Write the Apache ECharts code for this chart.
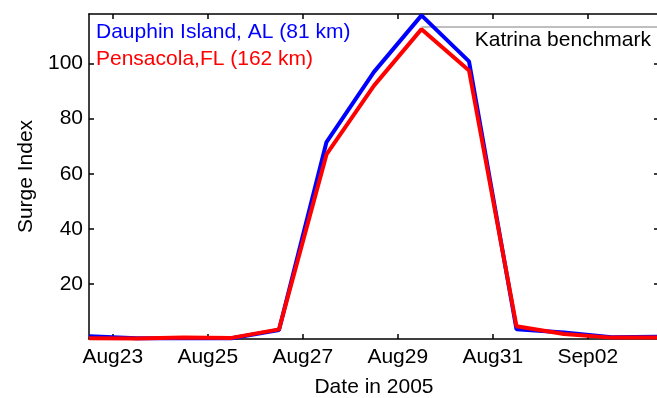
<!DOCTYPE html>
<html>
<head>
<meta charset="utf-8">
<script src="https://cdn.jsdelivr.net/npm/echarts@6/dist/echarts.min.js"></script>
<style>html,body{margin:0;padding:0;background:#fff}#c{width:657px;height:398px}</style>
</head>
<body>
<div id="c"></div>
<script>
const dates = ['2005-08-22T12:00:00Z','2005-08-23T12:00:00Z','2005-08-24T12:00:00Z','2005-08-25T12:00:00Z','2005-08-26T12:00:00Z','2005-08-27T12:00:00Z','2005-08-28T12:00:00Z','2005-08-29T12:00:00Z','2005-08-30T12:00:00Z','2005-08-31T12:00:00Z','2005-09-01T12:00:00Z','2005-09-02T12:00:00Z','2005-09-03T12:00:00Z'];
const dauphin = [1.0, 0.3, 0.3, 0.3, 3.3, 71.5, 97, 117.5, 100.8, 3.5, 2.4, 0.6, 0.8];
const pensacola = [0.3, 0.2, 0.5, 0.4, 3.5, 67, 92, 112.5, 97.5, 4.6, 1.8, 0.5, 0.5];
const seriesNames = ['Dauphin Island, AL (81 km)', 'Pensacola,FL (162 km)'];
const xTickDates = ['2005-08-23T00:00:00Z','2005-08-25T00:00:00Z','2005-08-27T00:00:00Z','2005-08-29T00:00:00Z','2005-08-31T00:00:00Z','2005-09-02T00:00:00Z'];
const xTickLabels = ['Aug23','Aug25','Aug27','Aug29','Aug31','Sep02'];
const yTicks = [20, 40, 60, 80, 100];
const benchmarkValue = 113.5;
const benchmarkStart = '2005-08-29T12:00:00Z';
const benchmarkEnd = '2005-09-03T12:00:00Z';
const benchmarkLabel = 'Katrina benchmark';
const xMin = '2005-08-22T12:00:00Z', xMax = '2005-09-03T12:00:00Z';

const FONT = 'Liberation Sans';
const t = s => new Date(s).getTime();
const xTickVals = xTickDates.map(t);
const labelMap = {};
xTickVals.forEach((v, i) => labelMap[v] = xTickLabels[i]);

const chart = echarts.init(document.getElementById('c'), null, {renderer: 'canvas'});
const axisLine = {show: true, onZero: false, lineStyle: {color: '#000', width: 1.5}};
chart.setOption({
  animation: false,
  textStyle: {fontFamily: FONT},
  grid: {left: 89, top: 14, right: -2, bottom: 59, containLabel: false, outerBoundsMode: 'none'},
  legend: {
    orient: 'vertical', left: 91, top: 17, itemGap: 6,
    itemWidth: 0, itemHeight: 0, icon: 'rect',
    selectedMode: false,
    textStyle: {fontFamily: FONT, fontSize: 21, padding: [0, 0, 0, -5]},
    data: [
      {name: seriesNames[0], textStyle: {color: '#0000ff'}},
      {name: seriesNames[1], textStyle: {color: '#ff0000'}}
    ]
  },
  xAxis: [{
    type: 'value', min: t(xMin), max: t(xMax), scale: true,
    axisLine: axisLine,
    axisTick: {show: true, inside: true, length: 5, customValues: xTickVals, lineStyle: {color: '#000', width: 1.5}},
    axisLabel: {customValues: xTickVals, formatter: v => labelMap[v] || '', color: '#000', fontSize: 21, fontFamily: FONT, margin: 8},
    splitLine: {show: false},
    name: 'Date in 2005', nameLocation: 'middle', nameGap: 38,
    nameTextStyle: {color: '#000', fontSize: 21, fontFamily: FONT}
  }, {
    type: 'value', position: 'top', min: t(xMin), max: t(xMax), scale: true,
    axisLine: axisLine,
    axisTick: {show: true, inside: true, length: 5, customValues: xTickVals, lineStyle: {color: '#000', width: 1.5}},
    axisLabel: {show: false}, splitLine: {show: false}
  }],
  yAxis: [{
    type: 'value', min: 0, max: 118,
    axisLine: axisLine,
    axisTick: {show: true, inside: true, length: 5, customValues: yTicks, lineStyle: {color: '#000', width: 1.5}},
    axisLabel: {customValues: yTicks, color: '#000', fontSize: 21, fontFamily: FONT, margin: 6},
    splitLine: {show: false},
    name: 'Surge Index', nameLocation: 'middle', nameGap: 52, nameRotate: 90,
    nameTextStyle: {color: '#000', fontSize: 21, fontFamily: FONT}
  }, {
    type: 'value', min: 0, max: 118, position: 'right',
    axisLine: axisLine,
    axisTick: {show: true, inside: true, length: 5, customValues: yTicks, lineStyle: {color: '#000', width: 1.5}},
    axisLabel: {show: false}, splitLine: {show: false}
  }],
  series: [{
    name: seriesNames[0], type: 'line', showSymbol: false, symbol: 'none',
    data: dates.map((d, i) => [t(d), dauphin[i]]),
    lineStyle: {color: '#0000ff', width: 4}, itemStyle: {color: '#0000ff'},
    z: 3,
    markLine: {
      silent: true, symbol: 'none',
      lineStyle: {color: '#aaaaaa', width: 1.5, type: 'solid'},
      label: {show: true, position: 'insideEndBottom', formatter: benchmarkLabel, color: '#000', fontSize: 21, fontFamily: FONT, distance: [8, 3]},
      data: [[{coord: [t(benchmarkStart), benchmarkValue]}, {coord: [t(benchmarkEnd), benchmarkValue]}]],
      z: 1
    }
  }, {
    name: seriesNames[1], type: 'line', showSymbol: false, symbol: 'none',
    data: dates.map((d, i) => [t(d), pensacola[i]]),
    lineStyle: {color: '#ff0000', width: 4}, itemStyle: {color: '#ff0000'},
    z: 4
  }]
});
</script>
</body>
</html>
